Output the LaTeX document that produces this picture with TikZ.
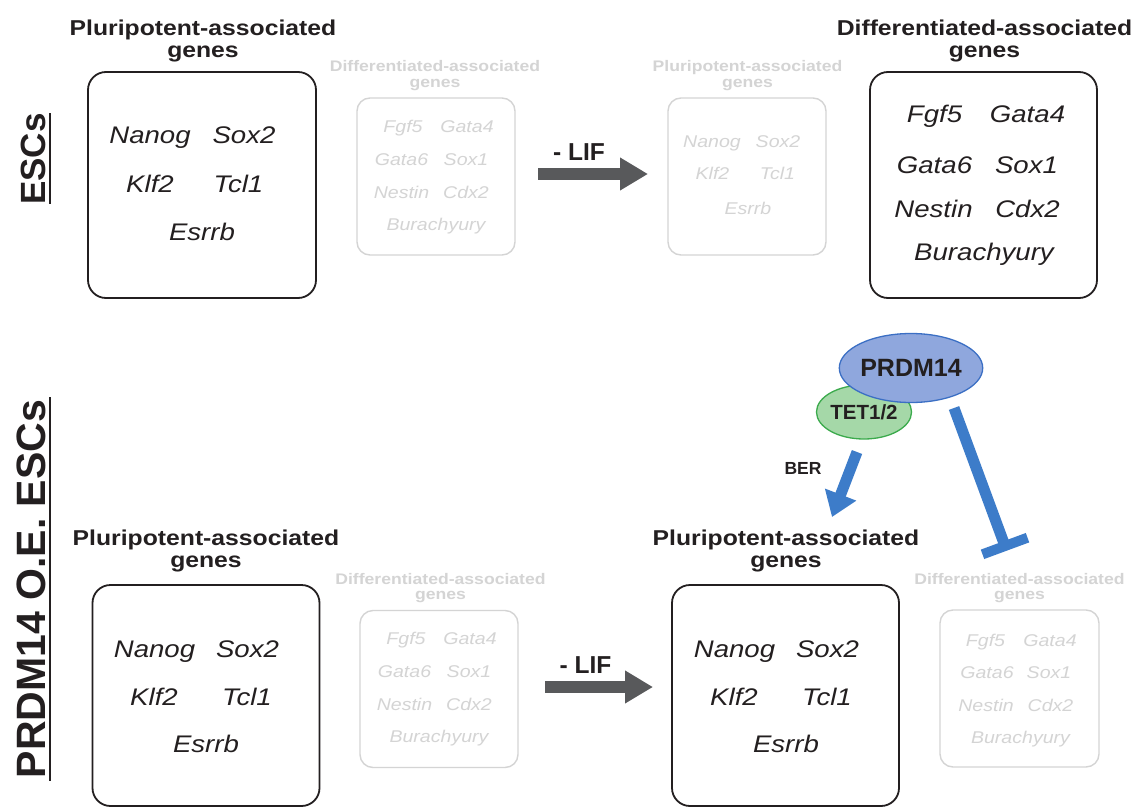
\documentclass[tikz,border=0pt]{standalone}
\usepackage{fontspec}
\setmainfont{Liberation Sans}
\newfontfamily\wide[FakeStretch=1.15]{Liberation Sans}
\usetikzlibrary{shapes.geometric,arrows.meta,calc}

\definecolor{ink}{HTML}{231F20}
\definecolor{faint}{HTML}{D4D4D4}
\definecolor{liffill}{HTML}{58595B}
\definecolor{prdmfill}{HTML}{8FA7DD}
\definecolor{prdmline}{HTML}{3B6FC4}
\definecolor{tetfill}{HTML}{A5D8A8}
\definecolor{tetline}{HTML}{3BAA4C}
\definecolor{actblue}{HTML}{3D7CC9}

\tikzset{
  genebox/.style={draw=ink, line width=1.8pt, rounded corners=18pt, inner sep=0pt},
  fadebox/.style={draw=faint, line width=1.4pt, rounded corners=13pt, inner sep=0pt},
  title/.style={font=\wide\bfseries\fontsize{21.5}{22}\selectfont, align=center, text=ink, inner sep=0pt},
  ftitle/.style={font=\wide\bfseries\fontsize{15.3}{15.5}\selectfont, align=center, text=faint, inner sep=0pt},
  gene/.style={font=\wide\itshape\fontsize{24}{24}\selectfont, anchor=base, text=ink, inner sep=0pt},
  fgene/.style={font=\wide\itshape\fontsize{17}{17}\selectfont, anchor=base, text=faint, inner sep=0pt},
  liflabel/.style={font=\bfseries\fontsize{24.5}{24.5}\selectfont, anchor=base, text=ink, inner sep=0pt},
  lifarrow/.style={draw=liffill, line width=12pt, -{Triangle[length=28pt,width=31pt]}},
  actarrow/.style={draw=actblue, line width=11pt, -{Triangle[length=24pt,width=32pt]}},
  inhline/.style={draw=actblue, line width=11pt},
  sidelabel/.style={font=\bfseries\fontsize{35}{35}\selectfont, rotate=90, anchor=base, text=ink, inner sep=0pt},
  sideline/.style={draw=ink, line width=2.5pt},
}

\begin{document}
\begin{tikzpicture}[x=1pt,y=-1pt]
\path[fill=white, use as bounding box] (0,0) rectangle (1140,808);

% ---- side labels ----
\node[sidelabel] (lab1) at (45,159) {ESCs};
\node[sidelabel, font=\bfseries\fontsize{41}{41}\selectfont] (lab2) at (45,589) {PRDM14 O.E. ESCs};
\coordinate (u1a) at (50,113); \coordinate (u1b) at (50,204);
\coordinate (u2a) at (50,397); \coordinate (u2b) at (50,781);
\draw[sideline] (u1a) -- (u1b);
\draw[sideline] (u2a) -- (u2b);

% ---- top row: control ESCs ----
\node[title] (t1) at (203,40.5) {Pluripotent-associated\\genes};
\node[genebox, minimum width=228pt, minimum height=226pt] (b1) at (202,185) {};
\node[gene] (b1g1) at (150,143) {Nanog};
\node[gene] (b1g2) at (244,143) {Sox2};
\node[gene] (b1g3) at (150,192) {Klf2};
\node[gene] (b1g4) at (238.5,192) {Tcl1};
\node[gene] (b1g5) at (202,240) {Esrrb};

\node[ftitle] (t2) at (435,75.6) {Differentiated-associated\\genes};
\node[fadebox, minimum width=158pt, minimum height=157pt] (b2) at (436,176.5) {};
\node[fgene] (b2g1) at (403,132) {Fgf5};
\node[fgene] (b2g2) at (467,132) {Gata4};
\node[fgene] (b2g3) at (401.5,165) {Gata6};
\node[fgene] (b2g4) at (466,165) {Sox1};
\node[fgene] (b2g5) at (401.5,198) {Nestin};
\node[fgene] (b2g6) at (466,198) {Cdx2};
\node[fgene] (b2g7) at (436,230) {Burachyury};

\coordinate (a1s) at (538,174); \coordinate (a1e) at (648,174);
\draw[lifarrow] (a1s) -- (a1e);
\node[liflabel] (lif1) at (579,160) {- LIF};

\node[ftitle] (t3) at (747.5,75.6) {Pluripotent-associated\\genes};
\node[fadebox, minimum width=158pt, minimum height=157pt] (b3) at (747,176.5) {};
\node[fgene] (b3g1) at (712,147) {Nanog};
\node[fgene] (b3g2) at (778,147) {Sox2};
\node[fgene] (b3g3) at (712.5,179) {Klf2};
\node[fgene] (b3g4) at (777.5,179) {Tcl1};
\node[fgene] (b3g5) at (748,214) {Esrrb};

\node[title] (t4) at (984.5,40.5) {Differentiated-associated\\genes};
\node[genebox, minimum width=227pt, minimum height=226pt] (b4) at (983.5,185) {};
\node[gene] (b4g1) at (934.5,122) {Fgf5};
\node[gene] (b4g2) at (1027.5,122) {Gata4};
\node[gene] (b4g3) at (934.5,173) {Gata6};
\node[gene] (b4g4) at (1026.5,173) {Sox1};
\node[gene] (b4g5) at (933.5,217) {Nestin};
\node[gene] (b4g6) at (1027.5,217) {Cdx2};
\node[gene] (b4g7) at (984,260) {Burachyury};

% ---- bottom row: PRDM14 over-expressing ESCs ----
\node[title] (t5) at (206,551) {Pluripotent-associated\\genes};
\node[genebox, minimum width=227pt, minimum height=221pt] (b5) at (206,695.5) {};
\node[gene] (b5g1) at (154.5,657) {Nanog};
\node[gene] (b5g2) at (247.5,657) {Sox2};
\node[gene] (b5g3) at (154,705) {Klf2};
\node[gene] (b5g4) at (247,705) {Tcl1};
\node[gene] (b5g5) at (206,752) {Esrrb};

\node[ftitle] (t6) at (440.5,588) {Differentiated-associated\\genes};
\node[fadebox, minimum width=158pt, minimum height=157pt] (b6) at (439,689) {};
\node[fgene] (b6g1) at (406,644.5) {Fgf5};
\node[fgene] (b6g2) at (470,644.5) {Gata4};
\node[fgene] (b6g3) at (404.5,677.5) {Gata6};
\node[fgene] (b6g4) at (469,677.5) {Sox1};
\node[fgene] (b6g5) at (404.5,710.5) {Nestin};
\node[fgene] (b6g6) at (469,710.5) {Cdx2};
\node[fgene] (b6g7) at (439,742.5) {Burachyury};

\coordinate (a2s) at (545,687); \coordinate (a2e) at (653,687);
\draw[lifarrow] (a2s) -- (a2e);
\node[liflabel] (lif2) at (585.5,673) {- LIF};

\node[title] (t7) at (786,551) {Pluripotent-associated\\genes};
\node[genebox, minimum width=227pt, minimum height=221pt] (b7) at (785.5,695.5) {};
\node[gene] (b7g1) at (734.5,657) {Nanog};
\node[gene] (b7g2) at (827.5,657) {Sox2};
\node[gene] (b7g3) at (734,705) {Klf2};
\node[gene] (b7g4) at (827,705) {Tcl1};
\node[gene] (b7g5) at (786,752) {Esrrb};

\node[ftitle] (t8) at (1019.5,588) {Differentiated-associated\\genes};
\node[fadebox, minimum width=159pt, minimum height=157pt] (b8) at (1019.5,688.5) {};
\node[fgene] (b8g1) at (985.5,646) {Fgf5};
\node[fgene] (b8g2) at (1050,646) {Gata4};
\node[fgene] (b8g3) at (987,678) {Gata6};
\node[fgene] (b8g4) at (1049,678) {Sox1};
\node[fgene] (b8g5) at (986,711) {Nestin};
\node[fgene] (b8g6) at (1050.5,711) {Cdx2};
\node[fgene] (b8g7) at (1020.5,743) {Burachyury};

% ---- PRDM14 / TET1/2 complex ----
\node[ellipse, draw=tetline, fill=tetfill, line width=1.3pt, minimum width=93pt, minimum height=54pt, inner sep=0pt,
      font=\bfseries\fontsize{20.5}{20.5}\selectfont, text=ink] (tet) at (864,412) {TET1/2};
\node[ellipse, draw=prdmline, fill=prdmfill, line width=1.3pt, minimum width=118pt, minimum height=69pt, inner sep=0pt,
      font=\bfseries\fontsize{25}{25}\selectfont, text=ink] (prdm) at (911,368) {PRDM14};

% activation by base excision repair
\coordinate (berS) at (857,452); \coordinate (berE) at (832,517);
\draw[actarrow] (berS) -- (berE);
\node[font=\bfseries\fontsize{17.5}{17.5}\selectfont, anchor=base, text=ink, inner sep=0pt] (ber) at (803,474) {BER};

% repression of differentiation genes
\coordinate (inhS) at (954,408); \coordinate (inhE) at (1005,546);
\draw[inhline] (inhS) -- (inhE);
\draw[inhline, line width=10pt] ($(inhE)!24pt!90:(inhS)$) -- ($(inhE)!24pt!-90:(inhS)$);
\end{tikzpicture}
\end{document}
